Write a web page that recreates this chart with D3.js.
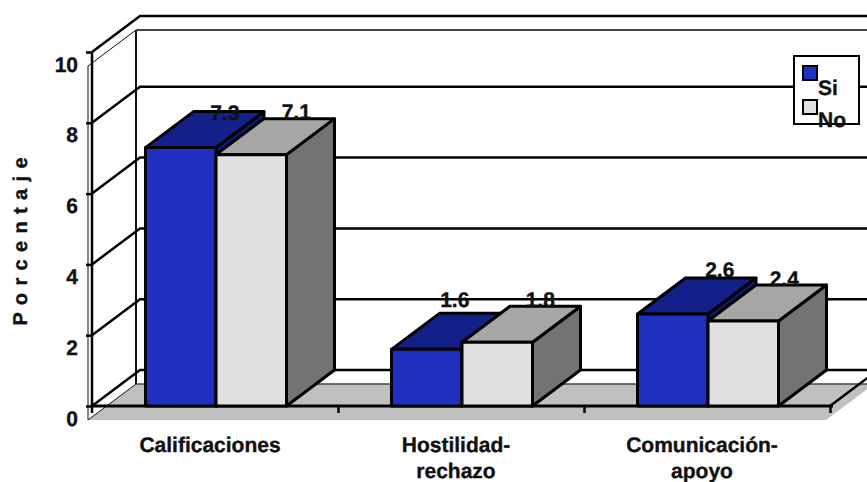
<!DOCTYPE html>
<html>
<head>
<meta charset="utf-8">
<style>
  html, body { margin: 0; padding: 0; background: #fff; }
  svg { display: block; }
  text { font-family: "Liberation Sans", Arial, sans-serif; font-weight: bold; fill: #111; stroke: #111; stroke-width: 0.35px; text-rendering: geometricPrecision; }
</style>
</head>
<body>
<div class="dataGraph"></div>
<script src="https://cdn.jsdelivr.net/npm/d3@7"></script>
<script>
'use strict';

var categories = ['Calificaciones', 'Hostilidad-\nrechazo', 'Comunicación-\napoyo'];
var seriesNames = ['Si', 'No'];
var siValues = [7.3, 1.6, 2.6];
var noValues = [7.1, 1.8, 2.4];
var yTicks = [0, 2, 4, 6, 8, 10];

// label nudges from the top of each bar, per series then category
var labelShift = [[[44, -28], [28, -42], [47, -37]], [[45, -36], [43, -35], [41, -35]]];

var width = 867, height = 482;
var depth = {x: 48, y: -36};
var plot = {left: 92, right: 830, top: 52, bottom: 406};
var groupWidth = 141;

var faces = [
  {front: '#1f2fbf', top: '#14208a', side: '#0f1a70'},
  {front: '#e0e0e0', top: '#a6a6a6', side: '#737373'}
];

var x = d3.scaleBand()
  .domain(categories)
  .range([plot.left, plot.right]);

var x1 = d3.scaleBand()
  .domain(seriesNames)
  .range([0, groupWidth])
  .padding(0);

var y = d3.scaleLinear()
  .domain([0, 10])
  .range([plot.bottom, plot.top]);

var svg = d3.select('.dataGraph').append('svg')
  .attr('width', width)
  .attr('height', height);

var line = d3.line();

function poly(points, fill, stroke, sw) {
  return svg.append('path')
    .attr('d', line(points) + 'Z')
    .attr('fill', fill)
    .attr('stroke', stroke)
    .attr('stroke-width', sw)
    .attr('stroke-linejoin', 'round');
}

function seg(points, stroke, sw) {
  return svg.append('path')
    .attr('d', line(points))
    .attr('fill', 'none')
    .attr('stroke', stroke)
    .attr('stroke-width', sw);
}

function groupLeft(c) {
  return x(c) + (x.bandwidth() - groupWidth) / 2 + 1;
}

var backLeft = plot.left + depth.x;
var floorLeft = plot.left - 4;
var floorFront = y(0) + 14;

// floor slab
poly([[floorLeft, floorFront], [floorLeft + depth.x, floorFront + depth.y],
  [width + 20, floorFront + depth.y], [width + 20, floorFront + depth.y - 2],
  [plot.right - 4 + depth.x, floorFront + depth.y], [plot.right - 4, floorFront]], '#c0c0c0', 'none', 0);
seg([[floorLeft + depth.x, floorFront + depth.y], [width + 20, floorFront + depth.y]], '#444', 1.5);
seg([[floorLeft, floorFront], [floorLeft + depth.x, floorFront + depth.y]], '#111', 1);

// left wall outline and back wall edge
seg([[floorLeft, floorFront], [floorLeft, y(10) + 14], [floorLeft + depth.x, y(10) + 14 + depth.y]], '#111', 1);
seg([[floorLeft + depth.x, y(10) + 14 + depth.y], [floorLeft + depth.x, floorFront + depth.y]], '#111', 2);
seg([[floorLeft + depth.x, y(10) + 14 + depth.y], [width + 20, y(10) + 14 + depth.y]], '#444', 2);

// gridlines run along the side wall then across the back wall
yTicks.forEach(function(t) {
  seg([[plot.left, y(t)], [backLeft, y(t) + depth.y], [width + 20, y(t) + depth.y]], '#000', 2.5);
});

// right edge of the floor and front baseline
seg([[plot.right, y(0)], [plot.right + depth.x, y(0) + depth.y]], '#000', 2.5);
seg([[plot.left, y(0)], [plot.right + 3, y(0)]], '#000', 3);

// y axis
var yAxis = svg.append('g')
  .attr('transform', 'translate(' + plot.left + ',0)')
  .call(d3.axisLeft(y).tickValues(yTicks).tickSize(6).tickPadding(8).tickFormat(d3.format('d')));
yAxis.select('.domain').attr('stroke', '#000').attr('stroke-width', 2.5)
  .attr('d', 'M0,' + y(10) + 'V' + (y(0) + 7));
yAxis.selectAll('.tick line').attr('stroke', '#000').attr('stroke-width', 2.5);
yAxis.selectAll('.tick text')
  .attr('dy', 19)
  .attr('x', -14)
  .style('font-size', '21px')
  .style('font-family', '"Liberation Sans", Arial, sans-serif');

// x axis tick marks sit between the categories
var xEdges = d3.scaleLinear().domain([0, categories.length]).range([plot.left, plot.right]);
var xTicks = svg.append('g')
  .attr('transform', 'translate(0,' + y(0) + ')')
  .call(d3.axisBottom(xEdges).tickValues([1, 2, 3]).tickSize(7).tickFormat(''));
xTicks.select('.domain').remove();
xTicks.selectAll('.tick line').attr('stroke', '#000').attr('stroke-width', 2.5);

// bars, back to front within each group
var series = [siValues, noValues];
categories.forEach(function(c, i) {
  seriesNames.forEach(function(s, j) {
    var v = series[j][i];
    var x0 = groupLeft(c) + x1(s);
    var x2 = x0 + x1.bandwidth();
    var y0 = y(0), y1 = y(v);
    var dx = depth.x, dy = depth.y;
    poly([[x2, y0], [x2 + dx, y0 + dy], [x2 + dx, y1 + dy], [x2, y1]], faces[j].side, '#000', 3);
    poly([[x0, y1], [x0 + dx, y1 + dy], [x2 + dx, y1 + dy], [x2, y1]], faces[j].top, '#000', 3);
    poly([[x0, y0], [x2, y0], [x2, y1], [x0, y1]], faces[j].front, '#000', 3);
  });
});

// value labels
categories.forEach(function(c, i) {
  seriesNames.forEach(function(s, j) {
    var v = series[j][i];
    svg.append('text')
      .attr('x', groupLeft(c) + x1(s) + x1.bandwidth() / 2 + labelShift[j][i][0])
      .attr('y', y(v) + labelShift[j][i][1])
      .attr('text-anchor', 'middle')
      .style('font-size', '21px')
      .text(d3.format('.1f')(v));
  });
});

// category labels, split on the line break
var xAxis = svg.append('g')
  .attr('transform', 'translate(-5,' + y(0) + ')')
  .call(d3.axisBottom(x).tickSize(0).tickFormat(''));
xAxis.select('.domain').remove();
xAxis.selectAll('.tick').each(function(d) {
  var label = d3.select(this).append('text')
    .attr('text-anchor', 'middle')
    .style('font-size', '21px');
  d.split('\n').forEach(function(part, k) {
    label.append('tspan')
      .attr('x', 0)
      .attr('y', 46 + k * 26)
      .text(part);
  });
});

// y axis title
svg.append('text')
  .attr('transform', 'translate(27,241) rotate(-90)')
  .attr('text-anchor', 'middle')
  .style('font-size', '20px')
  .style('letter-spacing', '0.9px')
  .text('P o r c e n t a j e');

// legend
var legend = svg.append('g');
legend.append('rect')
  .attr('x', 794).attr('y', 56)
  .attr('width', 65).attr('height', 68)
  .attr('fill', '#fff').attr('stroke', '#000').attr('stroke-width', 2);
seriesNames.forEach(function(s, j) {
  legend.append('rect')
    .attr('x', 803).attr('y', 66 + j * 34)
    .attr('width', 14).attr('height', 14)
    .attr('fill', faces[j].front)
    .attr('stroke', '#000').attr('stroke-width', 2);
  legend.append('text')
    .attr('x', 818).attr('y', 95 + j * 32)
    .style('font-size', '21px')
    .text(s);
});
</script>
</body>
</html>
